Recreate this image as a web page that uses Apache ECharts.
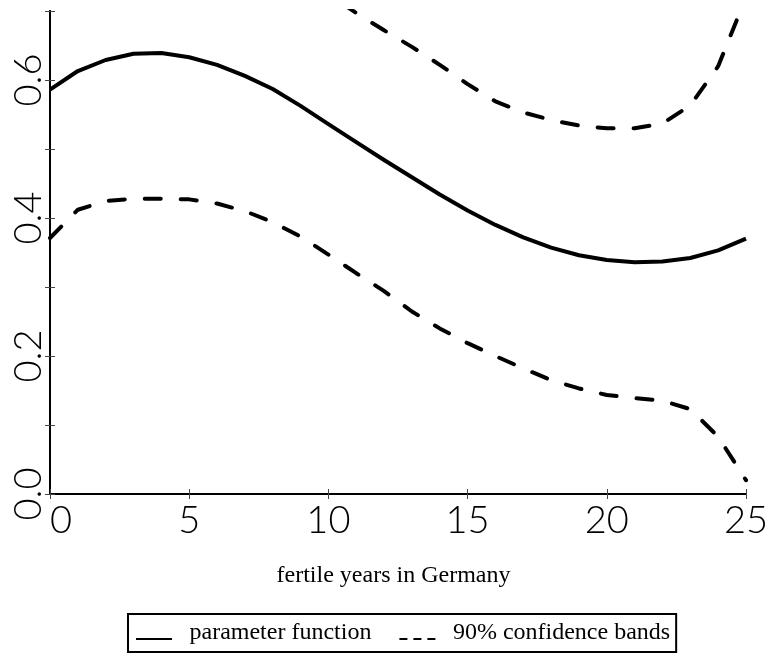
<!DOCTYPE html>
<html>
<head>
<meta charset="utf-8">
<script src="https://cdn.jsdelivr.net/npm/echarts@6/dist/echarts.min.js"></script>
<style>
html,body{margin:0;padding:0;background:#fff;}
#chart{width:773px;height:656px;}
</style>
</head>
<body>
<div id="chart"></div>
<script>
// fertile years 0..25
var years = [0,1,2,3,4,5,6,7,8,9,10,11,12,13,14,15,16,17,18,19,20,21,22,23,24,25];
var paramFunction = [0.586,0.613,0.629,0.638,0.639,0.633,0.622,0.606,0.587,0.5625,0.536,0.510,0.484,0.459,0.434,0.411,0.390,0.372,0.357,0.346,0.339,0.336,0.337,0.342,0.353,0.370];
var upperBand = [0.800,0.813,0.834,0.848,0.850,0.839,0.823,0.802,0.780,0.752,0.725,0.697,0.672,0.648,0.622,0.594,0.569,0.553,0.542,0.534,0.530,0.530,0.537,0.563,0.620,0.720];
var lowerBand = [0.371,0.412,0.4245,0.428,0.428,0.427,0.421,0.410,0.394,0.373,0.347,0.320,0.294,0.2645,0.240,0.2186,0.200,0.182,0.165,0.153,0.1435,0.139,0.135,0.123,0.083,0.020];
var yTickLabels = {'0':'0.0','0.2':'0.2','0.4':'0.4','0.6':'0.6'};
var xTitle = 'fertile years in Germany';
var nameMain = 'parameter function';
var nameBand = '90% confidence bands';

function pairs(ys){ return years.map(function(x,i){ return [x, ys[i]]; }); }

var digitFont = {fontFamily:'Lato', fontWeight:300, fontSize:38, color:'#000'};
var serif = 'Liberation Serif';

var chart = echarts.init(document.getElementById('chart'), null, {renderer:'canvas'});
var frameLine = {show:true, lineStyle:{color:'#000', width:2}};
var tickIn = {show:true, inside:true, length:5, lineStyle:{color:'#444', width:1}};

chart.setOption({
  animation:false,
  backgroundColor:'#fff',
  grid:{left:50, right:27, top:11, bottom:162, containLabel:false},
  legend:{
    left:128, top:614,
    padding:[7,6,7,8],
    borderColor:'#000', borderWidth:2, borderRadius:0,
    itemWidth:37, itemHeight:14, itemGap:28,
    symbolKeepAspect:true,
    textStyle:{fontFamily:serif, fontSize:24, color:'#000', padding:[0,0,5,12]},
    data:[
      {name:nameMain, icon:'path://M0,-12 M0,0h36v2h-36z', itemStyle:{color:'#000'}},
      {name:nameBand, icon:'path://M0,-12 M0,0h8v2h-8z M14,0h8v2h-8z M28,0h8v2h-8z', itemStyle:{color:'#000'}}
    ]
  },
  xAxis:[{
    type:'value', min:0, max:25, interval:5, position:'bottom',
    axisLine:frameLine, axisTick:tickIn, splitLine:{show:false},
    axisLabel:Object.assign({margin:8, alignMinLabel:'left'}, digitFont),
    name:xTitle, nameLocation:'middle', nameGap:70,
    nameTextStyle:{fontFamily:serif, fontSize:24, color:'#000', padding:[0,9,0,0]}
  },{
    type:'value', min:0, max:25, interval:5, position:'top',
    axisLine:frameLine, axisTick:tickIn, axisLabel:{show:false}, splitLine:{show:false}
  }],
  yAxis:[{
    type:'value', min:0, max:0.7, interval:0.1, position:'left',
    axisLine:frameLine, axisTick:tickIn, splitLine:{show:false},
    axisLabel:Object.assign({rotate:90, margin:2,
      formatter:function(v){ var k = String(Math.round(v*10)/10); return yTickLabels[k] || ''; }}, digitFont)
  },{
    type:'value', min:0, max:0.7, interval:0.1, position:'right',
    axisLine:frameLine, axisTick:tickIn, axisLabel:{show:false}, splitLine:{show:false}
  }],
  series:[
    {name:nameMain, type:'line', data:pairs(paramFunction), showSymbol:false, symbol:'none',
     lineStyle:{color:'#000', width:4, type:'solid', join:'round'}, itemStyle:{color:'#000'}, clip:true},
    {name:nameBand, type:'line', data:pairs(upperBand), showSymbol:false, symbol:'none',
     lineStyle:{color:'#000', width:4, type:[16,20], cap:'round'}, itemStyle:{color:'#000'}, clip:true},
    {name:nameBand, type:'line', data:pairs(lowerBand), showSymbol:false, symbol:'none',
     lineStyle:{color:'#000', width:4, type:[16,20], cap:'round'}, itemStyle:{color:'#000'}, clip:true}
  ]
});
</script>
</body>
</html>
